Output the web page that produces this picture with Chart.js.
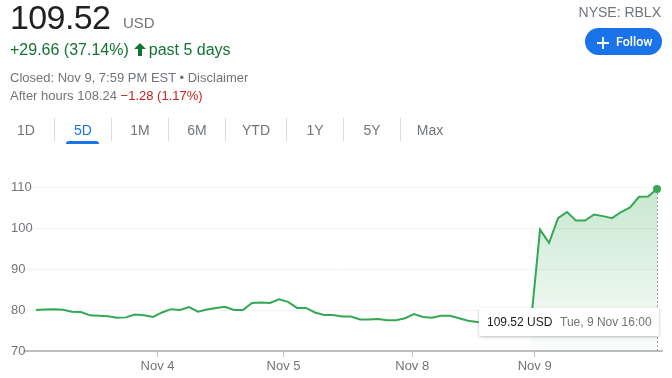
<!DOCTYPE html>
<html><head><meta charset="utf-8">
<script src="https://cdn.jsdelivr.net/npm/chart.js@4/dist/chart.umd.min.js"></script>
<style>
html,body{margin:0;padding:0;background:#fff;}
body{width:672px;height:378px;position:relative;overflow:hidden;font-family:Arial,"Liberation Sans",sans-serif;}
#c{position:absolute;left:0;top:0;}
.abs{position:absolute;white-space:nowrap;}
.price{left:10px;top:-1px;font-size:34px;line-height:36px;letter-spacing:-0.6px;color:#202124;}
.cur{left:123px;top:15px;font-size:15px;line-height:16px;color:#70757a;}
.chg{left:10px;top:41px;font-size:16px;line-height:18px;color:#137333;}
.chg svg{vertical-align:-1px;margin:0 3px 0 5px;}
.closed{left:10px;top:70px;font-size:13px;line-height:15px;color:#70757a;}
.after{left:10px;top:88px;font-size:13px;line-height:15px;color:#70757a;}
.after .neg{color:#c5221f;}
.exch{right:11px;top:4px;font-size:14px;line-height:16px;color:#70757a;}
.follow{left:585px;top:28px;width:77px;height:27px;border-radius:14px;background:#1a73e8;color:#fff;font-family:Roboto,Arial,sans-serif;font-weight:500;font-size:12.5px;line-height:27px;}
.follow svg{position:absolute;left:12px;top:8.5px;}
.follow span{position:absolute;left:31px;top:0;}
.tab{top:121px;font-size:14px;line-height:18px;color:#70757a;transform:translateX(-50%);}
.tab.on{color:#1a73e8;}
.sep{top:118px;width:1px;height:23px;background:#dadce0;}
.ul{left:66px;top:141px;width:33px;height:3px;background:#1a73e8;border-radius:3px 3px 0 0;}
.tip{left:479px;top:308px;width:180px;height:28px;background:#fff;border-radius:2px;box-shadow:0 1px 3px rgba(60,64,67,.35);font-size:12px;line-height:28px;}
.tip .v{position:absolute;left:8px;top:0;color:#202124;}
.tip .d{position:absolute;left:81px;top:0;color:#70757a;}
</style>
</head>
<body>
<canvas id="c" width="672" height="378"></canvas>
<div class="abs price">109.52</div>
<div class="abs cur">USD</div>
<div class="abs chg">+29.66 (37.14%)<svg width="12" height="13" viewBox="0 0 12 13"><path d="M6 0 L12 6 L8 6 L8 13 L4 13 L4 6 L0 6 Z" fill="#137333"/></svg>past 5 days</div>
<div class="abs closed">Closed: Nov 9, 7:59 PM EST • Disclaimer</div>
<div class="abs after">After hours 108.24 <span class="neg">−1.28 (1.17%)</span></div>
<div class="abs exch">NYSE: RBLX</div>
<div class="abs follow"><svg width="12" height="12" viewBox="0 0 12 12"><path d="M5.1 0h1.8v5.1H12v1.8H6.9V12H5.1V6.9H0V5.1h5.1z" fill="#fff"/></svg><span>Follow</span></div>
<div class="abs tab" style="left:26px">1D</div>
<div class="abs sep" style="left:54px"></div>
<div class="abs tab on" style="left:83px">5D</div>
<div class="abs sep" style="left:111px"></div>
<div class="abs tab" style="left:140px">1M</div>
<div class="abs sep" style="left:168px"></div>
<div class="abs tab" style="left:197px">6M</div>
<div class="abs sep" style="left:225px"></div>
<div class="abs tab" style="left:256px">YTD</div>
<div class="abs sep" style="left:286px"></div>
<div class="abs tab" style="left:315px">1Y</div>
<div class="abs sep" style="left:343px"></div>
<div class="abs tab" style="left:372px">5Y</div>
<div class="abs sep" style="left:400px"></div>
<div class="abs tab" style="left:430px">Max</div>
<div class="abs ul"></div>
<div class="abs tip"><span class="v">109.52 USD</span><span class="d">Tue, 9 Nov 16:00</span></div>
<script>
// Half-hourly prices (USD) per trading day
const nov3 = [80.0, 80.1, 80.2, 80.05, 79.6, 79.5, 78.7, 78.6, 78.5, 78.1, 78.2, 78.9, 78.7, 78.3];
const nov4 = [79.4, 80.2, 80.0, 80.7, 79.6, 80.1, 80.5, 80.8, 80.0, 80.0, 81.7, 81.8, 81.7, 82.6];
const nov5 = [82.0, 80.5, 80.5, 79.4, 78.8, 78.8, 78.4, 78.4, 77.7, 77.7, 77.8, 77.5, 77.5, 78.0];
const nov8 = [79.0, 78.3, 78.1, 78.6, 78.6, 78.0, 77.4, 77.1, 77.0, 76.9, 77.2, 77.0, 77.3, 77.2];
const nov9 = [99.6, 96.4, 102.4, 103.9, 101.8, 101.8, 103.3, 102.9, 102.4, 103.9, 105.0, 107.6, 107.7, 109.52];
const xTickLabels = ['Nov 4', 'Nov 5', 'Nov 8', 'Nov 9'];
const xTickPositions = [13.5, 27.5, 41.8, 55.4];
const yTickValues = [70, 80, 90, 100, 110];

const prices = [].concat(nov3, nov4, nov5, nov8, nov9);
const points = prices.map((v, i) => ({x: i, y: v}));
const lastDay = points.slice(points.length - nov9.length - 1);

Chart.defaults.font.family = 'Arial, "Liberation Sans", sans-serif';

const hoverLine = {
  id: 'hoverLine',
  beforeDatasetsDraw(chart) {
    const meta = chart.getDatasetMeta(1);
    const pt = meta.data[meta.data.length - 1];
    const c = chart.ctx;
    c.save();
    c.strokeStyle = '#9aa0a6';
    c.lineWidth = 1;
    c.setLineDash([2, 2]);
    c.beginPath();
    const x = Math.round(pt.x) + 0.5;
    c.moveTo(x, pt.y);
    c.lineTo(x, chart.chartArea.bottom);
    c.stroke();
    c.restore();
  }
};

new Chart(document.getElementById('c'), {
  type: 'line',
  data: {
    datasets: [
      {
        data: lastDay,
        borderWidth: 0,
        pointRadius: 0,
        fill: 'start',
        order: 2,
        backgroundColor: (ctx) => {
          const ca = ctx.chart.chartArea;
          if (!ca) return 'rgba(52,168,83,0.15)';
          const g = ctx.chart.ctx.createLinearGradient(0, ca.top, 0, ca.bottom);
          g.addColorStop(0, 'rgba(52,168,83,0.28)');
          g.addColorStop(1, 'rgba(52,168,83,0.02)');
          return g;
        }
      },
      {
        data: points,
        borderColor: '#34a853',
        borderWidth: 2,
        fill: false,
        tension: 0,
        order: 1,
        clip: false,
        pointRadius: (ctx) => ctx.dataIndex === points.length - 1 ? 4 : 0,
        pointBackgroundColor: '#34a853',
        pointBorderWidth: 0
      }
    ]
  },
  options: {
    responsive: false,
    animation: false,
    devicePixelRatio: 1,
    layout: {padding: {top: 187, right: 10, left: 11, bottom: 0}},
    plugins: {legend: {display: false}, tooltip: {enabled: false}},
    scales: {
      x: {
        type: 'linear',
        min: -1.22,
        max: 69.55,
        afterFit: (s) => { s.height = 27; },
        afterBuildTicks: (s) => { s.ticks = xTickPositions.map(v => ({value: v})); },
        ticks: {
          autoSkip: false,
          maxRotation: 0,
          padding: 2,
          color: '#70757a',
          font: {size: 13},
          callback: (v, i) => xTickLabels[i]
        },
        grid: {drawOnChartArea: false, drawTicks: true, tickLength: 6, color: '#bdc1c6'},
        border: {display: true, color: '#bdbdbd', width: 2}
      },
      y: {
        min: 70,
        max: 110,
        afterFit: (s) => { s.width = 14; },
        afterBuildTicks: (s) => { s.ticks = yTickValues.map(v => ({value: v})); },
        ticks: {mirror: true, padding: -14, color: '#70757a', font: {size: 13}},
        grid: {color: '#f3f3f3', drawTicks: false},
        border: {display: false}
      }
    }
  },
  plugins: [hoverLine]
});
</script>
</body></html>
